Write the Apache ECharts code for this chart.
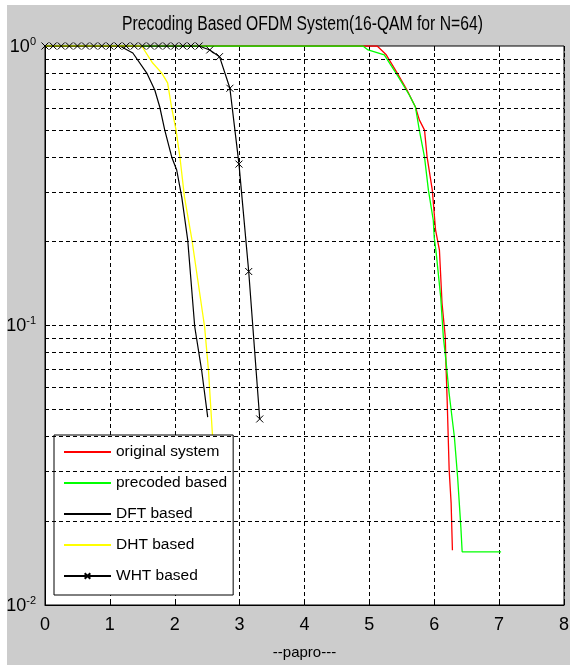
<!DOCTYPE html>
<html><head><meta charset="utf-8">
<script src="https://cdn.jsdelivr.net/npm/echarts@6/dist/echarts.min.js"></script>
<style>html,body{margin:0;padding:0;background:#fff;}#c{position:absolute;left:7px;top:5px;width:563px;height:660px;}</style>
</head><body><div id="c"></div>
<script>
const titleText = 'Precoding Based OFDM System(16-QAM for N=64)';
const xLabel = '--papro---';
const seriesNames = ['original system', 'precoded based', 'DFT based', 'DHT based', 'WHT based'];

const origX = [0, 5.12, 5.26, 5.43, 5.58, 5.71, 5.77, 5.85, 5.89, 5.97, 6.02, 6.08, 6.12, 6.17, 6.18, 6.2, 6.23, 6.26, 6.28];
const origY = [1, 1, 0.93, 0.80, 0.696, 0.605, 0.544, 0.50, 0.40, 0.305, 0.22, 0.186, 0.12, 0.091, 0.073, 0.053, 0.0304, 0.0232, 0.0157];

const precX = [0, 4.9, 4.98, 5.23, 5.43, 5.615, 5.71, 5.77, 5.85, 5.91, 5.985, 6.0, 6.03, 6.1, 6.14, 6.18, 6.23, 6.31, 6.36, 6.41, 6.43, 7.03];
const precY = [1, 1, 0.968, 0.93, 0.787, 0.668, 0.605, 0.50, 0.40, 0.305, 0.238, 0.206, 0.182, 0.126, 0.091, 0.075, 0.057, 0.040, 0.0287, 0.019, 0.0155, 0.0155];

const dftX = [0, 1.154, 1.354, 1.569, 1.692, 1.769, 1.846, 1.954, 2.03, 2.108, 2.2, 2.308, 2.415, 2.508];
const dftY = [1, 1, 0.944, 0.80, 0.696, 0.605, 0.50, 0.40, 0.36, 0.288, 0.202, 0.099, 0.069, 0.047];

const dhtX = [0, 1.49, 1.66, 1.8, 1.89, 1.95, 2.02, 2.08, 2.15, 2.26, 2.46, 2.52, 2.58, 2.62];
const dhtY = [1, 1, 0.869, 0.80, 0.738, 0.605, 0.50, 0.40, 0.288, 0.206, 0.099, 0.069, 0.041, 0.035];

const whtX = [0, 0.125, 0.25, 0.375, 0.5, 0.625, 0.75, 0.875, 1.0, 1.125, 1.25, 1.375, 1.5, 1.625, 1.75, 1.875, 2.0, 2.125, 2.25, 2.375, 2.54, 2.69, 2.85, 2.99, 3.14, 3.31];
const whtY = [1, 1, 1, 1, 1, 1, 1, 1, 1, 1, 1, 1, 1, 1, 1, 1, 1, 1, 1, 1, 0.968, 0.916, 0.706, 0.378, 0.156, 0.0463];

const xTicks = [0, 1, 2, 3, 4, 5, 6, 7, 8];
const yGrid = [0.02, 0.03, 0.04, 0.05, 0.06, 0.07, 0.08, 0.09, 0.1, 0.2, 0.3, 0.4, 0.5, 0.6, 0.7, 0.8, 0.9];

const FONT = "'Liberation Sans', Arial, sans-serif";
const pair = (xs, ys) => xs.map((x, i) => [x, ys[i]]);
const xMark = 'path://M-5,-5M0,0L10,10M10,0L0,10M15,15';

const chart = echarts.init(document.getElementById('c'), null, {renderer: 'canvas'});
const base = {type: 'line', symbol: 'none', animation: false, z: 3};
const hidden = {opacity: 0};
chart.setOption({
  backgroundColor: '#cccccc',
  animation: false,
  graphic: [{
    type: 'text', x: 302.5 - 7, y: 19, z: 10, scaleX: 0.785, scaleY: 1.05,
    style: {text: titleText, textAlign: 'center', textVerticalAlign: 'middle', fontFamily: FONT, fontSize: 20, fill: '#000'}
  }],
  grid: {left: 38, top: 41, width: 519, height: 559, containLabel: false, outerBoundsMode: 'none',
    show: true, backgroundColor: '#fff', borderColor: '#000', borderWidth: 1},
  legend: {
    orient: 'vertical', left: 47, top: 430,
    data: [
      {name: seriesNames[0], itemStyle: hidden},
      {name: seriesNames[1], itemStyle: hidden},
      {name: seriesNames[2], itemStyle: hidden},
      {name: seriesNames[3], itemStyle: hidden},
      {name: seriesNames[4]}
    ],
    itemWidth: 47, itemHeight: 14, itemGap: 13,
    padding: [8, 6, 10, 9],
    backgroundColor: '#fff', borderColor: '#000', borderWidth: 1, borderRadius: 0,
    textStyle: {fontFamily: FONT, fontSize: 15.5, lineHeight: 18, color: '#000'}
  },
  xAxis: [{
    type: 'value', min: xTicks[0], max: xTicks[xTicks.length - 1], interval: 1,
    name: xLabel, nameLocation: 'middle', nameGap: 40,
    nameTextStyle: {fontFamily: FONT, fontSize: 15, color: '#000'},
    axisLine: {show: true, lineStyle: {color: '#000'}},
    axisTick: {show: true, inside: true, length: 5, lineStyle: {color: '#000'}},
    axisLabel: {fontFamily: FONT, fontSize: 18, color: '#000', margin: 11},
    splitLine: {show: true, lineStyle: {color: '#000', type: [4, 3], width: 1}}
  }, {
    type: 'value', position: 'top', min: 0, max: 8, interval: 1,
    axisLine: {show: false}, axisLabel: {show: false}, splitLine: {show: false},
    axisTick: {show: true, inside: true, length: 5, lineStyle: {color: '#000'}}
  }],
  yAxis: {
    type: 'log', logBase: 10, min: 0.01, max: 1,
    axisLine: {show: true, lineStyle: {color: '#000'}},
    axisTick: {show: true, inside: true, length: 5, lineStyle: {color: '#000'}},
    splitLine: {show: false},
    axisLabel: {
      margin: 9, color: '#000',
      formatter: v => '{b|10}{s|' + Math.round(Math.log10(v)) + '}',
      rich: {
        b: {fontFamily: FONT, fontSize: 18, lineHeight: 20, verticalAlign: 'bottom', color: '#000'},
        s: {fontFamily: FONT, fontSize: 11, lineHeight: 11, verticalAlign: 'top', color: '#000'}
      }
    }
  },
  series: [
    {type: 'line', name: '_grid', data: [[0, 1]], symbol: 'none', z: 1, lineStyle: {width: 0},
      markLine: {silent: true, symbol: ['none', 'none'], label: {show: false}, animation: false,
        lineStyle: {color: '#000', type: [4, 3], width: 1},
        data: yGrid.map(v => ({yAxis: v}))}},
    Object.assign({}, base, {name: seriesNames[0], data: pair(origX, origY), lineStyle: {color: '#ff0000', width: 1.3}, itemStyle: {color: '#ff0000'}}),
    Object.assign({}, base, {name: seriesNames[1], data: pair(precX, precY), lineStyle: {color: '#00ff00', width: 1.3}, itemStyle: {color: '#00ff00'}}),
    Object.assign({}, base, {name: seriesNames[2], data: pair(dftX, dftY), lineStyle: {color: '#000000', width: 1.2}, itemStyle: {color: '#000000'}}),
    Object.assign({}, base, {name: seriesNames[3], data: pair(dhtX, dhtY), lineStyle: {color: '#ffff00', width: 1.3}, itemStyle: {color: '#ffff00'}}),
    Object.assign({}, base, {name: seriesNames[4], data: pair(whtX, whtY), symbol: xMark, symbolSize: 14, showAllSymbol: true,
      lineStyle: {color: '#000000', width: 1.2}, itemStyle: {color: '#000000', borderColor: '#000000', borderWidth: 1}})
  ]
});
</script></body></html>
